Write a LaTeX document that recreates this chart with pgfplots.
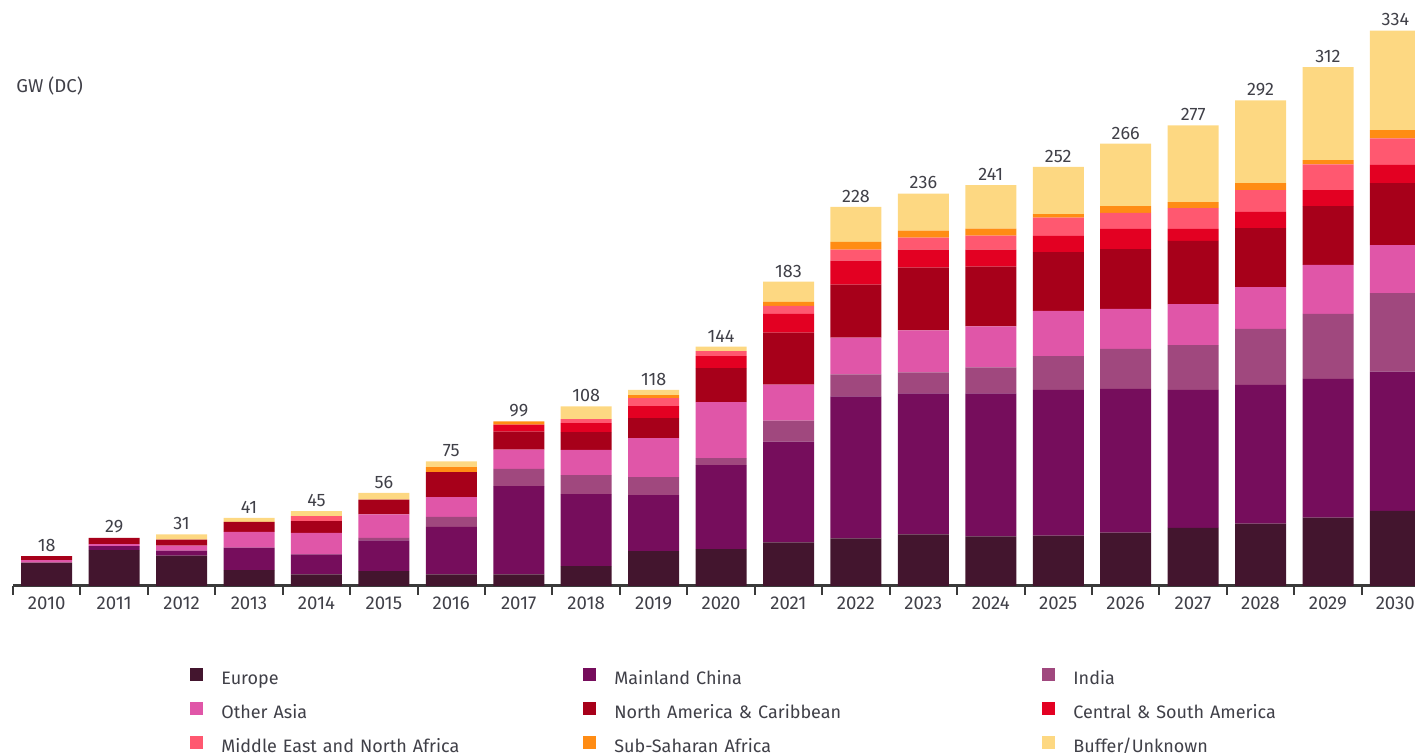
\documentclass[border=0pt]{standalone}
\usepackage{fontspec}
\setmainfont{Fira Sans}
\usepackage{pgfplots}
\usepackage{pgfplotstable}
\pgfplotsset{compat=1.18}
\definecolor{ceu}{HTML}{43152E}
\definecolor{ccn}{HTML}{760D5C}
\definecolor{cin}{HTML}{A0487E}
\definecolor{coa}{HTML}{E056A8}
\definecolor{cna}{HTML}{A7001A}
\definecolor{ccsa}{HTML}{E30022}
\definecolor{cmena}{HTML}{FF5870}
\definecolor{cssa}{HTML}{FF8C14}
\definecolor{cbuf}{HTML}{FDD882}
\definecolor{txt}{HTML}{404048}
\definecolor{axgrey}{HTML}{3A3A3A}

\pgfplotstableread{
year eu   cn   in   oa   na   csa  mena ssa buf  total
2010 14   0    0    1.5  2.5  0    0    0   0    18
2011 21.5 2.5  0    1.2  3.8  0    0    0   0    29
2012 18.3 3    0    3    3.6  0    0    0   3.1  31
2013 9.5  13.5 0    9.5  6    0    0    0   2.5  41
2014 7    12   0    13   7    0    3    0   3    45
2015 9    18.5 1.5  14   9    0    0    0   4    56
2016 7    28.5 6    12   15   0    0    3   3.5  75
2017 7    53   10.5 11.5 10.8 4.2  0    2   0    99
2018 12   43.3 11.4 15.1 10.8 5.4  2.4  0   7.6  108
2019 21   33.7 10.8 23.4 12.1 7.2  4.8  1.8 3.2  118
2020 22.2 50.5 4.2  33.7 20.4 7.2  3    0   2.8  144
2021 26.2 60.6 12.6 21.7 31.2 11.4 4.8  2.4 12.1 183
2022 28.6 85.4 13.2 22.2 31.8 14.4 6.6  4.8 21   228
2023 31   84.8 12.6 25.3 37.8 10.8 7.2  4.2 22.3 236
2024 29.8 86   15.6 24.7 36   10.2 8.4  4.2 26.1 241
2025 30.3 87.7 20.3 27.2 35.2 9.8  11   2.1 28.4 252
2026 32.1 86.4 24.1 24   35.9 12.3 9.5  4.2 37.5 266
2027 35   83   26.9 24.6 38   7.3  12.4 3.6 46.2 277
2028 37.5 83.4 33.7 25.1 35.5 9.7  13.1 4.3 49.7 292
2029 41.1 83.5 39.1 29.4 35.4 9.5  15.6 2.5 55.9 312
2030 45.2 83.7 47.2 28.9 37.3 10.9 16   5   59.8 334
}\data

\pgfplotsset{
  sq/.style={legend image code/.code={\fill[##1,draw=none] (0pt,-1pt) rectangle (6.5pt,5.5pt);}},
  common/.style={
    scale only axis,
    width=701pt, height=282.7pt,
    xmin=2009.5, xmax=2030.29,
    ymin=0, ymax=340,
    clip=false,
    bar width=25.5pt,
  },
}

\begin{document}
\begin{tikzpicture}
\begin{axis}[
  common,
  name=ax,
  ybar stacked,
  axis y line=none, axis x line*=bottom,
  x axis line style={color=axgrey, line width=1.5pt},
  xtick={2010,...,2030},
  major tick length=0pt,
  minor xtick={2009.5,2010.5,...,2029.5},
  minor tick length=4.5pt,
  tick align=outside,
  minor x tick style={color=axgrey, line width=1pt},
  /pgf/number format/1000 sep={},
  /pgf/number format/assume math mode=true,
  xticklabel style={font=\fontsize{9.3}{11}\selectfont, text=txt, yshift=-2pt},
  legend columns=3,
  legend cell align=left,
  legend style={
    at={(0,0)}, anchor=north west, xshift=88.5pt, yshift=-41pt,
    draw=none, inner sep=0pt, row sep=7pt,
    font=\fontsize{9}{11}\selectfont, text=txt,
    nodes={inner sep=0pt, text height=7pt, text depth=2pt},
    /tikz/column 1/.style={column sep=9pt},
    /tikz/column 2/.style={text width=181pt},
    /tikz/column 3/.style={column sep=9pt},
    /tikz/column 4/.style={text width=214pt},
    /tikz/column 5/.style={column sep=9pt},
    /tikz/column 6/.style={text width=150pt},
  },
]
\addplot[fill=ceu, draw=none, sq] table[x=year, y=eu] {\data};
\addlegendentry{Europe}
\addplot[fill=ccn, draw=none, sq] table[x=year, y=cn] {\data};
\addlegendentry{Mainland China}
\addplot[fill=cin, draw=none, sq] table[x=year, y=in] {\data};
\addlegendentry{India}
\addplot[fill=coa, draw=none, sq] table[x=year, y=oa] {\data};
\addlegendentry{Other Asia}
\addplot[fill=cna, draw=none, sq] table[x=year, y=na] {\data};
\addlegendentry{North America \& Caribbean}
\addplot[fill=ccsa, draw=none, sq] table[x=year, y=csa] {\data};
\addlegendentry{Central \& South America}
\addplot[fill=cmena, draw=none, sq] table[x=year, y=mena] {\data};
\addlegendentry{Middle East and North Africa}
\addplot[fill=cssa, draw=none, sq] table[x=year, y=ssa] {\data};
\addlegendentry{Sub-Saharan Africa}
\addplot[fill=cbuf, draw=none, sq] table[x=year, y=buf] {\data};
\addlegendentry{Buffer/Unknown}
\end{axis}
\begin{axis}[
  common,
  hide axis,
  ybar,
  /pgf/number format/assume math mode=true,
  nodes near coords,
  every node near coord/.append style={font=\fontsize{9}{10}\selectfont, text=txt, anchor=south, inner sep=2pt},
]
\addplot[draw=none, fill=none, bar shift=0pt] table[x=year, y=total] {\data};
\end{axis}
\node[anchor=west, inner sep=0pt, font=\fontsize{9.3}{11}\selectfont, text=txt] at ([shift={(1.5pt,250pt)}]ax.south west) {GW (DC)};
\pgfresetboundingbox
\path[use as bounding box] ([shift={(-6.5pt,-83.5pt)}]ax.south west) rectangle ([shift={(701pt,293pt)}]ax.south west);
\end{tikzpicture}
\end{document}
